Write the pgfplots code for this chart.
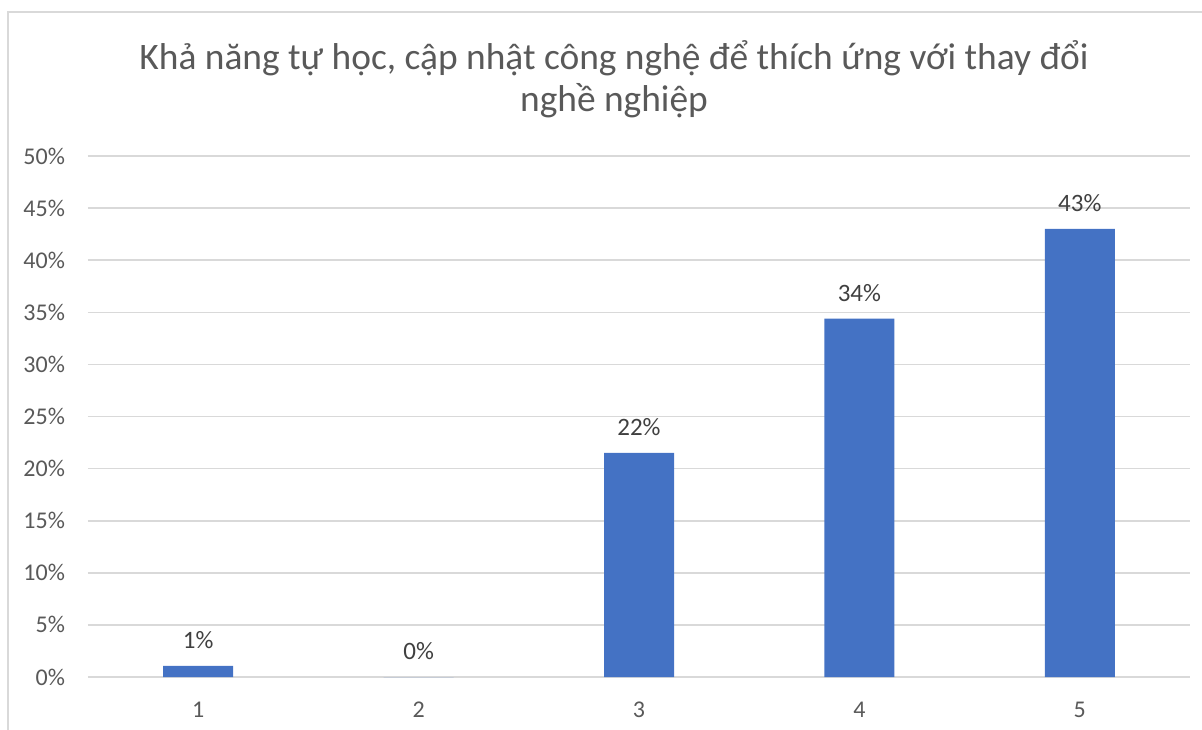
\documentclass[border=0pt]{standalone}
\usepackage{fontspec}
\setmainfont{Carlito}
\usepackage{pgfplots}
\pgfplotsset{compat=1.18}
\definecolor{barblue}{HTML}{4472C4}
\definecolor{txtgrey}{HTML}{595959}
\definecolor{lblgrey}{HTML}{404040}
\definecolor{gridgrey}{HTML}{D9D9D9}
\begin{document}
\begin{tikzpicture}
\useasboundingbox (-44pt,-26pt) rectangle (557pt,338.5pt);
\draw[gridgrey, line width=0.8pt] (-40pt,-30pt) -- (-40pt,332.5pt) -- (560pt,332.5pt);
\begin{axis}[
  scale only axis,
  width=551pt, height=260.5pt,
  at={(0,0)}, anchor=south west,
  xmin=0.5, xmax=5.5, ymin=0, ymax=50,
  xtick={1,2,3,4,5},
  ytick={0,5,...,50},
  yticklabel={\pgfmathprintnumber{\tick}\%},
  /pgf/number format/assume math mode=true,
  axis line style={draw=none},
  major tick length=0pt,
  ymajorgrids,
  grid style={gridgrey, line width=0.8pt},
  tick label style={font=\fontsize{12}{14}\selectfont, text=txtgrey},
  yticklabel style={xshift=-8pt},
  xticklabel style={yshift=-9pt},
  ybar, bar width=35pt,
  nodes near coords,
  point meta=explicit symbolic,
  nodes near coords style={font=\fontsize{12.5}{14}\selectfont, text=lblgrey, yshift=5pt},
]
\addplot[fill=barblue, draw=none] coordinates {
  (1,1.06) [1\%]
  (2,0) [0\%]
  (3,21.5) [22\%]
  (4,34.4) [34\%]
  (5,43.0) [43\%]
};
\end{axis}
\node[align=center, text=txtgrey, font=\fontsize{18.7}{21}\selectfont] at (263pt,299pt)
  {Khả năng tự học, cập nhật công nghệ để thích ứng với thay đổi\\nghề nghiệp};
\end{tikzpicture}
\end{document}
